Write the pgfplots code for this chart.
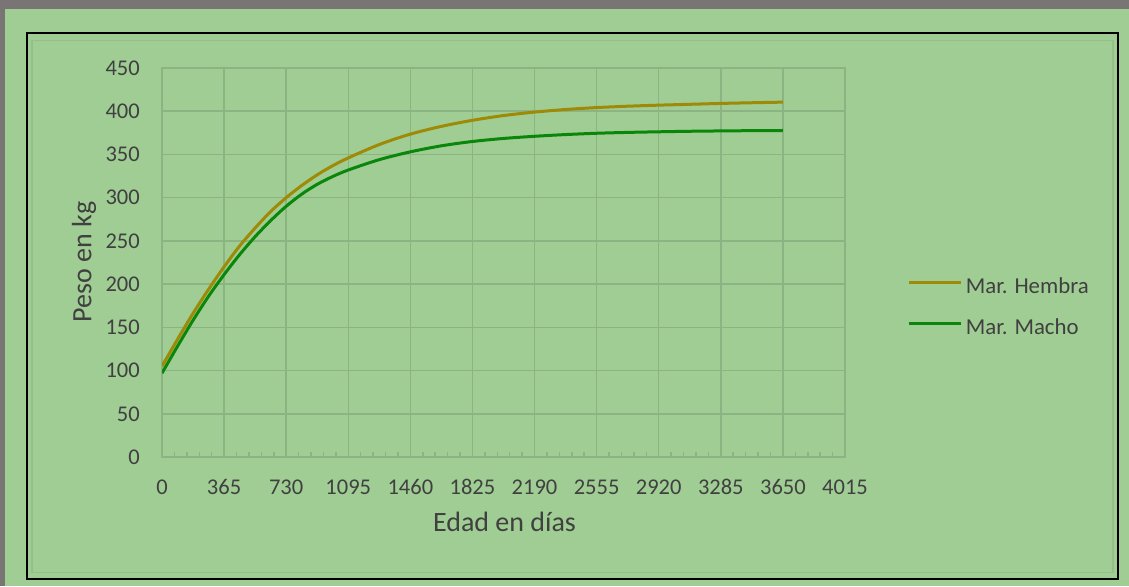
\documentclass[border=0pt]{standalone}
\usepackage{pgfplots}
\pgfplotsset{compat=1.18}
\usepackage{pgfplotstable}
\usepackage{fontspec}
\setmainfont{Carlito}
\definecolor{bggrey}{HTML}{797574}
\definecolor{bggreen}{HTML}{A0CD94}
\definecolor{innerb}{HTML}{93BF88}
\definecolor{gridc}{HTML}{8CB382}
\definecolor{txt}{HTML}{404040}
\definecolor{hembra}{HTML}{9E8A06}
\definecolor{macho}{HTML}{0A870A}

\pgfplotstableread{
x y
0 105
91 136
182 166
274 194
365 220
456 244
548 265
639 284
730 300
821 314
913 326.5
1004 337
1095 346
1278 361.5
1460 373.5
1643 382.5
1825 389.5
2008 395
2190 399
2373 402
2555 404.2
2738 405.8
2920 407
3103 408
3285 409
3468 409.8
3650 410.5
}\hembratab

\pgfplotstableread{
x y
0 97
91 128
182 158
274 186
365 211
456 234
548 255
639 273.5
730 290
821 304
913 315.5
1004 324.5
1095 332
1278 344
1460 353
1643 360
1825 365
2008 368.5
2190 371
2373 373
2555 374.5
2738 375.5
2920 376.2
3103 376.8
3285 377.2
3468 377.5
3650 377.7
}\machotab

\begin{document}
\begin{tikzpicture}
\useasboundingbox (0pt,0pt) rectangle (1129pt,586pt);
\fill[bggrey] (0pt,0pt) rectangle (1129pt,586pt);
\fill[bggreen] (5pt,0pt) rectangle (1129pt,577pt);
\draw[innerb, line width=1.5pt] (32pt,13.5pt) rectangle (1113pt,545.5pt);
\draw[black, line width=2.5pt] (27pt,7pt) rectangle (1118pt,553pt);
\begin{axis}[
  at={(162pt,129pt)}, anchor=south west,
  scale only axis, width=683pt, height=389pt,
  xmin=0, xmax=4015, ymin=0, ymax=450,
  xtick={0,365,...,4015}, ytick={0,50,...,450},
  minor x tick num=4,
  xtick pos=bottom, ytick pos=left,
  major tick length=0pt, minor tick length=5pt,
  tick align=inside,
  minor tick style={gridc, line width=1.5pt},
  grid=major,
  major grid style={gridc, line width=1.5pt},
  axis line style={gridc, line width=1.5pt},
  /pgf/number format/1000 sep={},
  /pgf/number format/assume math mode=true,
  ticklabel style={font=\fontsize{22.5}{27}\selectfont, text=txt, inner sep=0pt, text height=14.5pt, text depth=0pt},
  yticklabel style={anchor=east, xshift=-22pt},
  xticklabel style={anchor=north, yshift=-23pt},
  xlabel={Edad en días}, ylabel={Peso en kg},
  label style={font=\fontsize{28}{32}\selectfont, text=txt, inner sep=0pt},
  xlabel style={at={(axis description cs:0.5015,-0.168)}, anchor=center},
  ylabel style={at={(axis description cs:-0.1142,0.502)}, anchor=center, rotate=0},
  legend style={at={(axis description cs:1.092,0.462)}, anchor=north west,
    draw=none, fill=none, inner sep=0pt, outer sep=0pt,
    font=\fontsize{22.8}{27}\selectfont, text=txt, row sep=20pt,
    nodes={inner sep=0pt, text height=16pt, text depth=5pt},
    /tikz/every odd column/.append style={column sep=3pt}},
  legend cell align=left,
  legend image code/.code={\draw[#1, line width=3pt] (0pt,5.5pt) -- (52pt,5.5pt);},
]
\addplot[hembra, line width=3pt, smooth, tension=0.5] table[x=x,y=y] {\hembratab};
\addlegendentry{Mar. Hembra}
\addplot[macho, line width=3pt, smooth, tension=0.5] table[x=x,y=y] {\machotab};
\addlegendentry{Mar. Macho}
\end{axis}
\end{tikzpicture}
\end{document}
